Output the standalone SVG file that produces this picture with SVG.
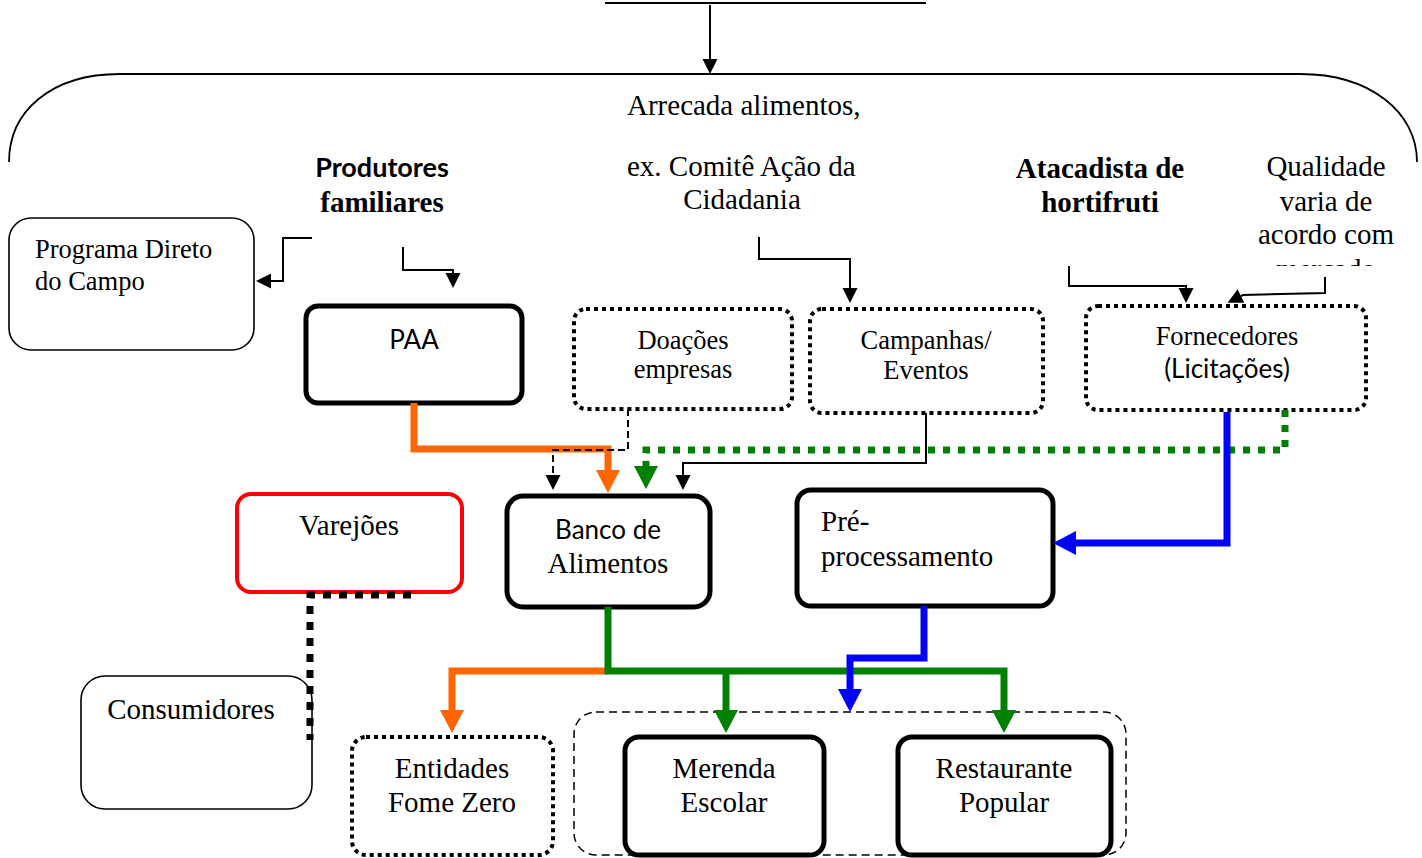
<svg xmlns="http://www.w3.org/2000/svg" width="1422" height="858" viewBox="0 0 1422 858">
<style>
.t{font-family:"Liberation Serif","Times New Roman",serif;font-size:29px;fill:#000}
.tb{font-family:"Liberation Serif","Times New Roman",serif;font-size:29px;font-weight:bold;fill:#000}
.tm{font-family:"Liberation Serif","Times New Roman",serif;font-size:26.5px;fill:#000}
.s{font-family:Lato,"Open Sans",sans-serif;font-size:26px;fill:#000}
.sb{font-family:Lato,"Open Sans",sans-serif;font-size:27px;font-weight:bold;fill:#000}
.c{text-anchor:middle}
.thin{fill:#fff;stroke:#000;stroke-width:1.6}
.bold{fill:#fff;stroke:#000;stroke-width:5}
.dot{fill:#fff;stroke:#000;stroke-width:4;stroke-dasharray:4 4}
.ln{fill:none;stroke:#000;stroke-width:2}
.dash{fill:none;stroke:#000;stroke-width:2;stroke-dasharray:7 4}
.or{fill:none;stroke:#FF6600;stroke-width:7}
.gr{fill:none;stroke:#008000;stroke-width:7}
.grd{fill:none;stroke:#008000;stroke-width:7;stroke-dasharray:7 8}
.bl{fill:none;stroke:#0000FF;stroke-width:7}
.bkd{fill:none;stroke:#000;stroke-width:7;stroke-dasharray:8 8}
</style>
<defs>
<marker id="ab" markerUnits="userSpaceOnUse" markerWidth="16" markerHeight="16" refX="0" refY="7.5" orient="auto"><path d="M0,0 L15,7.5 L0,15 z" fill="#000"/></marker>
<marker id="ao" markerUnits="userSpaceOnUse" markerWidth="24" markerHeight="24" refX="0" refY="12" orient="auto"><path d="M0,0 L23,12 L0,24 z" fill="#FF6600"/></marker>
<marker id="ag" markerUnits="userSpaceOnUse" markerWidth="24" markerHeight="24" refX="0" refY="12" orient="auto"><path d="M0,0 L23,12 L0,24 z" fill="#008000"/></marker>
<marker id="abl" markerUnits="userSpaceOnUse" markerWidth="24" markerHeight="24" refX="0" refY="12" orient="auto"><path d="M0,0 L23,12 L0,24 z" fill="#0000FF"/></marker>
<clipPath id="clipM"><rect x="1240" y="250" width="180" height="16"/></clipPath>
</defs>
<rect width="1422" height="858" fill="#fff"/>

<g id="bracket">
<path d="M605,3 H926" class="ln" stroke-width="2.5"/>
<path d="M9,162 C9,112 50,74 120,74 H1300 C1370,74 1417,112 1417,162" fill="none" stroke="#000" stroke-width="1.8"/>
<text class="t" x="627" y="115">Arrecada alimentos,</text>
<text class="t" x="627" y="176">ex. Comitê Ação da</text>
<text class="t c" x="742" y="209">Cidadania</text>
</g>

<g id="produtores">
<text class="sb c" x="382" y="177">Produtores</text>
<text class="tb c" x="382" y="212">familiares</text>
</g>
<g id="atacadista">
<text class="tb c" x="1100" y="178">Atacadista de</text>
<text class="tb c" x="1100" y="212">hortifruti</text>
</g>
<g id="qualidade">
<text class="t c" x="1326" y="176">Qualidade</text>
<text class="t c" x="1326" y="211">varia de</text>
<text class="t c" x="1326" y="244">acordo com</text>
<text class="t c" x="1326" y="279" clip-path="url(#clipM)">mercado</text>
</g>

<g id="programa">
<rect x="9" y="218" width="245" height="132" rx="22" class="thin"/>
<text class="tm" x="35" y="258" font-size="27">Programa Direto</text>
<text class="tm" x="35" y="290" font-size="27">do Campo</text>
</g>
<g id="paa">
<rect x="306" y="306" width="216" height="97" rx="12" class="bold" stroke-width="4"/>
<text class="s c" x="414" y="349">PAA</text>
</g>
<g id="doacoes">
<rect x="574" y="309" width="218" height="100" rx="12" class="dot"/>
<text class="tm c" x="683" y="349">Doações</text>
<text class="tm c" x="683" y="378">empresas</text>
</g>
<g id="campanhas">
<rect x="810" y="309" width="233" height="104" rx="12" class="dot"/>
<text class="tm c" x="926" y="349">Campanhas/</text>
<text class="tm c" x="926" y="379">Eventos</text>
</g>
<g id="fornecedores">
<rect x="1086" y="306" width="280" height="104" rx="12" class="dot"/>
<text class="tm c" x="1227" y="345">Fornecedores</text>
<text class="s c" x="1227" y="378" font-size="24">(Licitações)</text>
</g>
<g id="varejoes">
<rect x="237" y="494" width="225" height="98" rx="14" fill="#fff" stroke="#FF0000" stroke-width="4"/>
<text class="t c" x="349" y="535">Varejões</text>
</g>
<g id="banco">
<rect x="507" y="496" width="203" height="111" rx="16" class="bold"/>
<text class="s c" x="608" y="539">Banco de</text>
<text class="t c" x="608" y="573">Alimentos</text>
</g>
<g id="preprocessamento">
<rect x="797" y="490" width="256" height="116" rx="14" class="bold" stroke-width="4.5"/>
<text class="t" x="821" y="531">Pré-</text>
<text class="t" x="821" y="566">processamento</text>
</g>
<g id="consumidores">
<rect x="81" y="676" width="231" height="133" rx="24" class="thin"/>
<text class="t c" x="191" y="719">Consumidores</text>
</g>
<g id="entidades">
<rect x="352" y="737" width="201" height="118" rx="14" class="dot"/>
<text class="t c" x="452" y="778">Entidades</text>
<text class="t c" x="452" y="812">Fome Zero</text>
</g>
<g id="grupo">
<rect x="574" y="712" width="552" height="143" rx="22" fill="none" stroke="#000" stroke-width="1.5" stroke-dasharray="8 5"/>
</g>
<g id="merenda">
<rect x="625" y="737" width="199" height="118" rx="14" class="bold"/>
<text class="t c" x="724" y="778">Merenda</text>
<text class="t c" x="724" y="812">Escolar</text>
</g>
<g id="restaurante">
<rect x="898" y="737" width="213" height="118" rx="14" class="bold"/>
<text class="t c" x="1004" y="778">Restaurante</text>
<text class="t c" x="1004" y="812">Popular</text>
</g>

<g id="connectors">
<path d="M710,5 V59" class="ln" marker-end="url(#ab)"/>
<path d="M312,238 H283 V281 H271" class="ln" marker-end="url(#ab)"/>
<path d="M403,247 V270 H453 V273" class="ln" marker-end="url(#ab)"/>
<path d="M759,237 V259 H850 V288" class="ln" marker-end="url(#ab)"/>
<path d="M1069,266 V286 H1186 V288" class="ln" marker-end="url(#ab)"/>
<path d="M1325,277 V293 L1243,295 L1241,296" class="ln" marker-end="url(#ab)"/>
<path d="M414,403 V449 H608 V470" class="or" marker-end="url(#ao)"/>
<path d="M628,409 V450 H553 V475" class="dash" marker-end="url(#ab)"/>
<path d="M1285,410 V450 H646 V466" class="grd" marker-end="url(#ag)"/>
<path d="M926,413 V463 H683 V475" class="ln" marker-end="url(#ab)"/>
<path d="M1227,412 V543 H1076" class="bl" marker-end="url(#abl)"/>
<path d="M608,671 H452 V710" class="or" marker-end="url(#ao)"/>
<path d="M608,607 V671 H1004 V710" class="gr" marker-end="url(#ag)"/>
<path d="M726,671 V710" class="gr" marker-end="url(#ag)"/>
<path d="M924,606 V658 H850 V689" class="bl" marker-end="url(#abl)"/>
<path d="M411,595 H310 V740" class="bkd"/>
</g>
</svg>
